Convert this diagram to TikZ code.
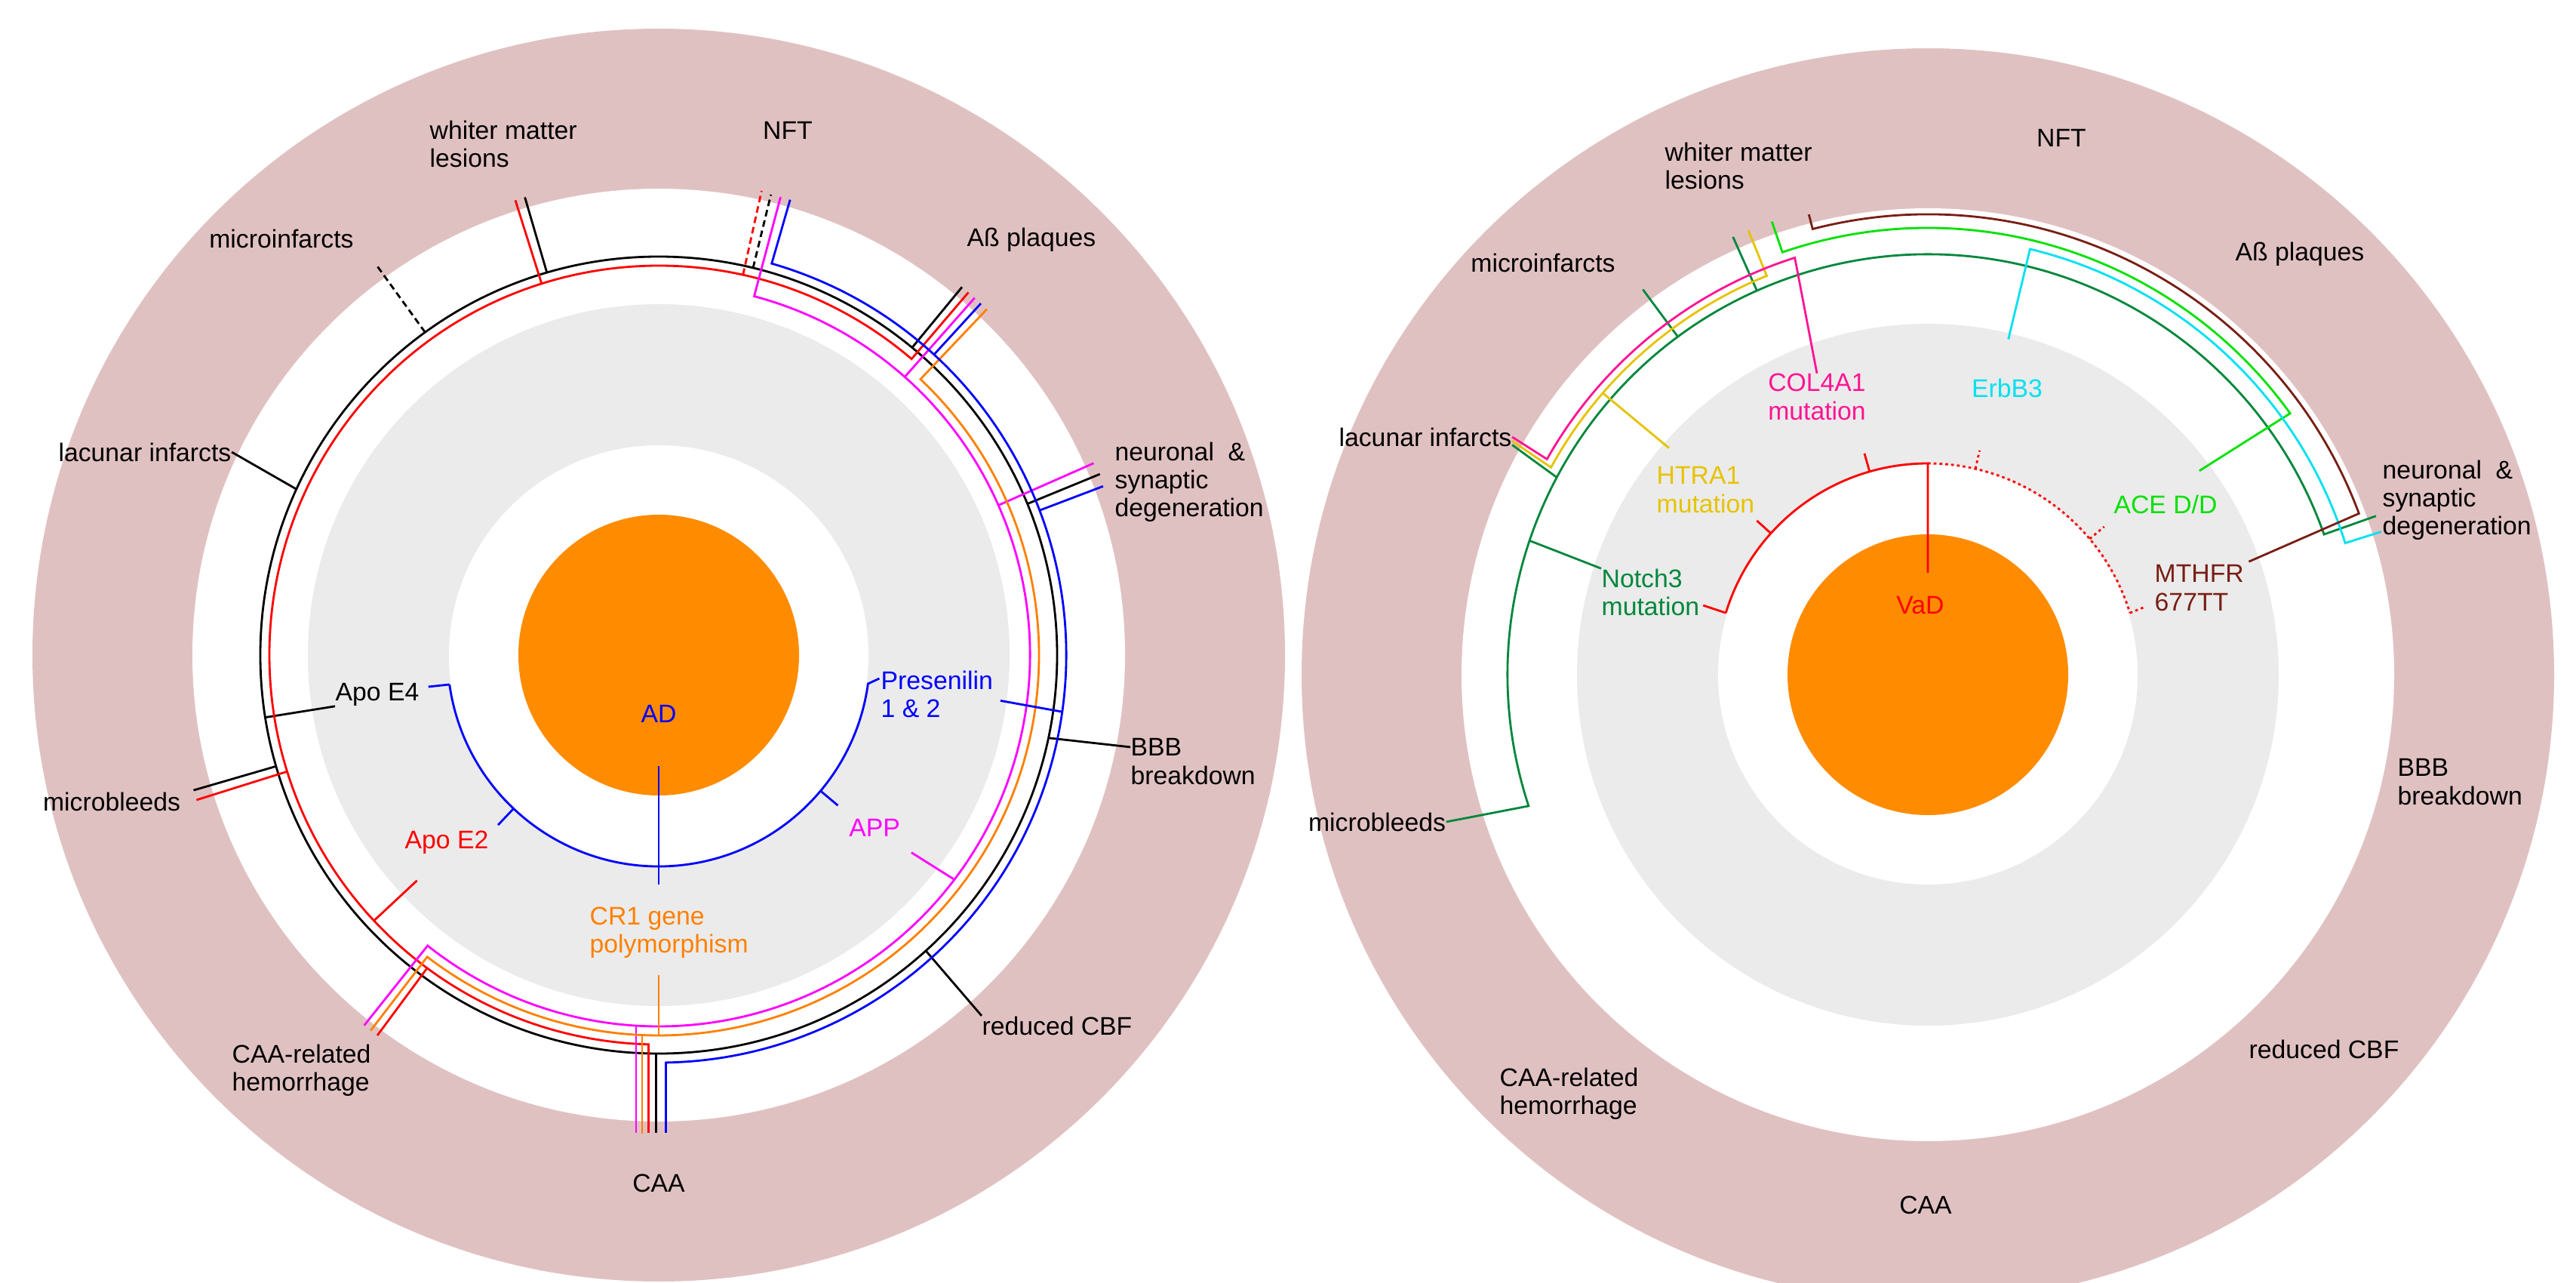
\documentclass[tikz,border=0pt]{standalone}
\usepackage{fontspec}
\setmainfont{Liberation Sans}
\definecolor{ringpink}{RGB}{224,193,193}
\definecolor{ringgray}{RGB}{235,235,235}
\definecolor{core}{RGB}{255,140,0}
\definecolor{cro}{RGB}{255,128,0}
\definecolor{mag}{RGB}{255,0,255}
\definecolor{dpink}{RGB}{255,20,147}
\definecolor{gold}{RGB}{230,195,0}
\definecolor{dgreen}{RGB}{0,135,60}
\definecolor{lgreen}{RGB}{0,225,0}
\definecolor{aqua}{RGB}{0,225,240}
\definecolor{rust}{RGB}{120,30,20}
\tikzset{
  lbl/.style={font=\fontsize{9.6}{10.6}\selectfont, inner sep=0pt, align=left},
  wire/.style={line width=0.8pt},
  dashwire/.style={wire, dash pattern=on 2.5pt off 1.5pt},
  dotwire/.style={wire, dash pattern=on 1pt off 1.2pt}
}
\begin{document}
\begin{tikzpicture}
  \useasboundingbox (0,0) rectangle (34.14,16.99);
  \begin{scope}[shift={(8.73,8.31)}]
    \foreach \r/\c in {8.3/ringpink,6.18/white,4.65/ringgray,2.78/white,1.86/core}
      \fill[\c] (0,0) circle (\r);
    \node[lbl,anchor=west] (wmlA) at (-3.04,6.77) {whiter matter\\lesions};
    \node[lbl] (nftA) at (1.71,6.95) {NFT};
    \node[lbl] (abA) at (4.94,5.50) {Aß plaques};
    \node[lbl,anchor=west] (neuA) at (6.04,2.29) {neuronal\ \ \&\\synaptic\\degeneration};
    \node[lbl,anchor=west] (bbbA) at (6.25,-1.41) {BBB\\breakdown};
    \node[lbl] (cbfA) at (5.28,-4.91) {reduced CBF};
    \node[lbl] (caaA) at (0,-7.00) {CAA};
    \node[lbl,anchor=west] (hemA) at (-5.66,-5.50) {CAA-related\\hemorrhage};
    \node[lbl] (mbA) at (-7.25,-1.94) {microbleeds};
    \node[lbl] (lacA) at (-6.81,2.69) {lacunar infarcts};
    \node[lbl] (miA) at (-5.00,5.52) {microinfarcts};
    \node[lbl] (e4) at (-3.73,-0.52) {Apo E4};
    \node[lbl,red] (e2) at (-2.81,-2.48) {Apo E2};
    \node[lbl,mag] (app) at (2.86,-2.29) {APP};
    \node[lbl,blue,anchor=west] (psen) at (2.94,-0.52) {Presenilin\\1 \& 2};
    \node[lbl,cro,anchor=west] (cr1) at (-0.92,-3.68) {CR1 gene\\polymorphism};
    \node[lbl,blue] (ad) at (0,-0.78) {AD};
    \draw[wire] (0,0) circle (5.28);
    \foreach \a in {106.3,50.5,22.3}
      \draw[wire] (\a:5.28) -- (\a:6.32);
    \draw[dashwire] (76.3:5.28) -- (76.3:6.28);
    \draw[dashwire] (125.9:5.28) -- (125.9:6.4);
    \draw[wire] (196.2:5.28) -- (196.2:6.42);
    \draw[wire] (155.4:5.28) -- (lacA.east);
    \draw[wire] (189:5.28) -- (e4.south west);
    \draw[wire] (-12:5.28) -- ([yshift=-0.12cm]bbbA.north west);
    \draw[wire] (-47.9:5.28) -- (cbfA.north west);
    \draw[wire] (-90.4:5.28) -- ++(0,-1.05);
    \draw[wire,red] (49.5:6.32) -- (49.5:5.16) arc[start angle=49.5,end angle=268.5,radius=5.16] -- ++(0,-1.17);
    \draw[wire,red] (107.5:5.16) -- (107.5:6.32);
    \draw[dashwire,red] (77.5:5.16) -- (77.5:6.3);
    \draw[wire,red] (197.4:5.16) -- (197.4:6.42);
    \draw[wire,red] (233.5:5.16) -- (233.5:6.27);
    \draw[wire,red] (223:4.38) -- (223:5.16);
    \draw[wire,mag] (75.1:6.28) -- (75.1:4.92) arc[start angle=75.1,end angle=-128.5,radius=4.92] -- (-128.5:6.27);
    \draw[wire,mag] (48.5:4.92) -- (48.5:6.32);
    \draw[wire,mag] (23.8:4.92) -- (23.8:6.3);
    \draw[wire,mag] (-93.5:4.92) -- ++(0,-1.42);
    \draw[wire,mag] (-38:4.25) -- (-37.2:4.92);
    \draw[wire,cro] (46.5:6.32) -- (46.5:5.04) arc[start angle=46.5,end angle=-127.5,radius=5.04] -- (-127.5:6.27);
    \draw[wire,cro] (-92.5:5.04) -- ++(0,-1.30);
    \draw[wire,cro] (0,-4.24) -- (0,-5.04);
    \draw[wire,blue] (73.9:6.28) -- (73.9:5.40) arc[start angle=73.9,end angle=-89,radius=5.40] -- ++(0,-0.93);
    \draw[wire,blue] (47.5:5.40) -- (47.5:6.32);
    \draw[wire,blue] (20.8:5.40) -- (20.8:6.3);
    \draw[wire,blue] (-7.6:4.57) -- (-8:5.40);
    \draw[wire,blue] (188:2.8) arc[start angle=188,end angle=352.2,radius=2.8] -- ++(0.15,0.07);
    \draw[wire,blue] (188:2.8) -- ++(-0.28,-0.03);
    \draw[wire,blue] (226.6:2.8) -- (226.6:3.1);
    \draw[wire,blue] (-40:2.8) -- (-40:3.1);
    \draw[wire,blue] (0,-1.47) -- (0,-3.04);
  \end{scope}
  \begin{scope}[shift={(25.55,8.05)}]
    \foreach \r/\c in {8.3/ringpink,6.18/white,4.65/ringgray,2.78/white,1.86/core}
      \fill[\c] (0,0) circle (\r);
    \node[lbl,anchor=west] (wmlB) at (-3.49,6.74) {whiter matter\\lesions};
    \node[lbl] (nftB) at (1.77,7.11) {NFT};
    \node[lbl] (abB) at (4.93,5.57) {Aß plaques};
    \node[lbl] (miB) at (-5.10,5.46) {microinfarcts};
    \node[lbl] (lacB) at (-6.66,3.15) {lacunar infarcts};
    \node[lbl,anchor=west] (neuB) at (6.02,2.31) {neuronal\ \ \&\\synaptic\\degeneration};
    \node[lbl,anchor=west] (bbbB) at (6.22,-1.42) {BBB\\breakdown};
    \node[lbl] (cbfB) at (5.25,-4.96) {reduced CBF};
    \node[lbl] (caaB) at (-0.03,-7.03) {CAA};
    \node[lbl,anchor=west] (hemB) at (-5.68,-5.55) {CAA-related\\hemorrhage};
    \node[lbl] (mbB) at (-7.30,-1.95) {microbleeds};
    \node[lbl,dpink] (col) at (-1.47,3.68) {COL4A1\\mutation};
    \node[lbl,aqua] (erb) at (1.05,3.80) {ErbB3};
    \node[lbl,gold,anchor=west] (htra) at (-3.60,2.45) {HTRA1\\mutation};
    \node[lbl,lgreen] (ace) at (3.15,2.26) {ACE D/D};
    \node[lbl,dgreen,anchor=west] (notch) at (-4.33,1.09) {Notch3\\mutation};
    \node[lbl,rust,anchor=west] (mthfr) at (3.00,1.15) {MTHFR\\677TT};
    \node[lbl,red] (vad) at (-0.10,0.92) {VaD};
    \draw[wire,dgreen] (mbB.east) -- (198.2:5.57) arc[start angle=198.2,end angle=19.5,radius=5.57] -- (19.5:6.3);
    \draw[wire,dgreen] (161.4:5.57) -- (notch.north west);
    \draw[wire,dgreen] (152:5.57) -- ([yshift=-3pt]lacB.east);
    \draw[wire,dgreen] (126.5:5.57) -- (126.5:6.35);
    \draw[wire,dgreen] (114:5.57) -- (114:6.35);
    \draw[wire,gold] ([yshift=-1.5pt]lacB.east) -- (151.2:5.70) arc[start angle=151.2,end angle=112,radius=5.70] -- (112:6.35);
    \draw[wire,gold] (139.1:5.70) -- (138.8:4.56);
    \draw[wire,dpink] (lacB.east) -- (150.5:5.80) arc[start angle=150.5,end angle=107.7,radius=5.80] -- (col.north);
    \draw[wire,lgreen] (109:6.35) -- (109:5.92) arc[start angle=109,end angle=35.8,radius=5.92] -- (36.9:4.5);
    \draw[wire,aqua] (76.5:4.57) -- (76.5:5.80) arc[start angle=76.5,end angle=17.5,radius=5.80] -- (17.5:6.3);
    \draw[wire,rust] (104.5:6.3) -- (104.5:6.10) arc[start angle=104.5,end angle=20.5,radius=6.10] -- (19.4:4.51);
    \draw[wire,red] (163:2.8) arc[start angle=163,end angle=90,radius=2.8] -- (0,1.35);
    \draw[dotwire,red] (90:2.8) arc[start angle=90,end angle=17,radius=2.8];
    \draw[wire,red] (163:2.8) -- ++(-0.3,0.1);
    \foreach \a in {106,138}
      \draw[wire,red] (\a:2.8) -- (\a:3.05);
    \foreach \a in {77,40}
      \draw[dotwire,red] (\a:2.8) -- (\a:3.05);
    \draw[dotwire,red] (17:2.8) -- ++(0.2,0.08);
  \end{scope}
\end{tikzpicture}
\end{document}
